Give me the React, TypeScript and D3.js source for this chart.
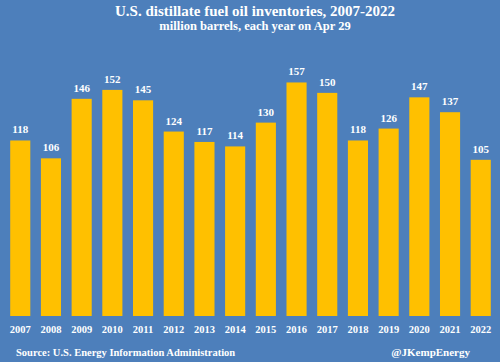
import React, { useEffect, useRef } from "react";
import * as d3 from "d3";

const years = ["2007", "2008", "2009", "2010", "2011", "2012", "2013", "2014", "2015", "2016", "2017", "2018", "2019", "2020", "2021", "2022"];
const inventories = [118, 106, 146, 152, 145, 124, 117, 114, 130, 157, 150, 118, 126, 147, 137, 105];

const W = 500;
const H = 362;

const App = () => {
  const ref = useRef<SVGSVGElement | null>(null);

  useEffect(() => {
    const svg = d3.select(ref.current);
    svg.selectAll("*").remove();
    const font = "'Liberation Serif', 'DejaVu Serif', serif";

    svg.append("rect").attr("width", W).attr("height", H).attr("fill", "#4d7fbb");

    const x = d3.scaleBand().domain(years).range([1, 500]).paddingInner(0.345).paddingOuter(0.3);
    const y = d3.scaleLinear().domain([0, 160]).range([316, 78]);

    const data = years.map((yr, i) => ({ yr, v: inventories[i] }));

    svg
      .append("g")
      .selectAll("rect")
      .data(data)
      .join("rect")
      .attr("x", (d) => x(d.yr)!)
      .attr("y", (d) => y(d.v))
      .attr("width", x.bandwidth())
      .attr("height", (d) => y(0) - y(d.v))
      .attr("fill", "#ffc000");

    svg
      .append("g")
      .selectAll("text")
      .data(data)
      .join("text")
      .attr("x", (d) => x(d.yr)! + x.bandwidth() / 2)
      .attr("y", (d) => y(d.v) - 7)
      .attr("text-anchor", "middle")
      .attr("fill", "white")
      .style("font", `bold 11px ${font}`)
      .text((d) => d.v);

    svg
      .append("g")
      .selectAll("text")
      .data(years)
      .join("text")
      .attr("x", (d) => x(d)! + x.bandwidth() / 2)
      .attr("y", 333)
      .attr("text-anchor", "middle")
      .attr("fill", "white")
      .style("font", `bold 10.5px ${font}`)
      .text((d) => d);

    svg
      .append("text")
      .attr("x", 255)
      .attr("y", 16)
      .attr("text-anchor", "middle")
      .attr("fill", "white")
      .style("font", `bold 15px ${font}`)
      .text("U.S. distillate fuel oil inventories, 2007-2022");

    svg
      .append("text")
      .attr("x", 255)
      .attr("y", 30)
      .attr("text-anchor", "middle")
      .attr("fill", "white")
      .style("font", `bold 12.5px ${font}`)
      .text("million barrels, each year on Apr 29");

    svg
      .append("text")
      .attr("x", 16)
      .attr("y", 356)
      .attr("fill", "white")
      .style("font", `bold 10.5px ${font}`)
      .text("Source: U.S. Energy Information Administration");

    svg
      .append("text")
      .attr("x", 470)
      .attr("y", 356)
      .attr("text-anchor", "end")
      .attr("fill", "white")
      .style("font", `bold 11px ${font}`)
      .text("@JKempEnergy");
  }, []);

  return (
    <svg
      ref={ref}
      width={W}
      height={H}
      style={{ position: "fixed", top: 0, left: 0, display: "block" }}
    />
  );
};

export default App;
